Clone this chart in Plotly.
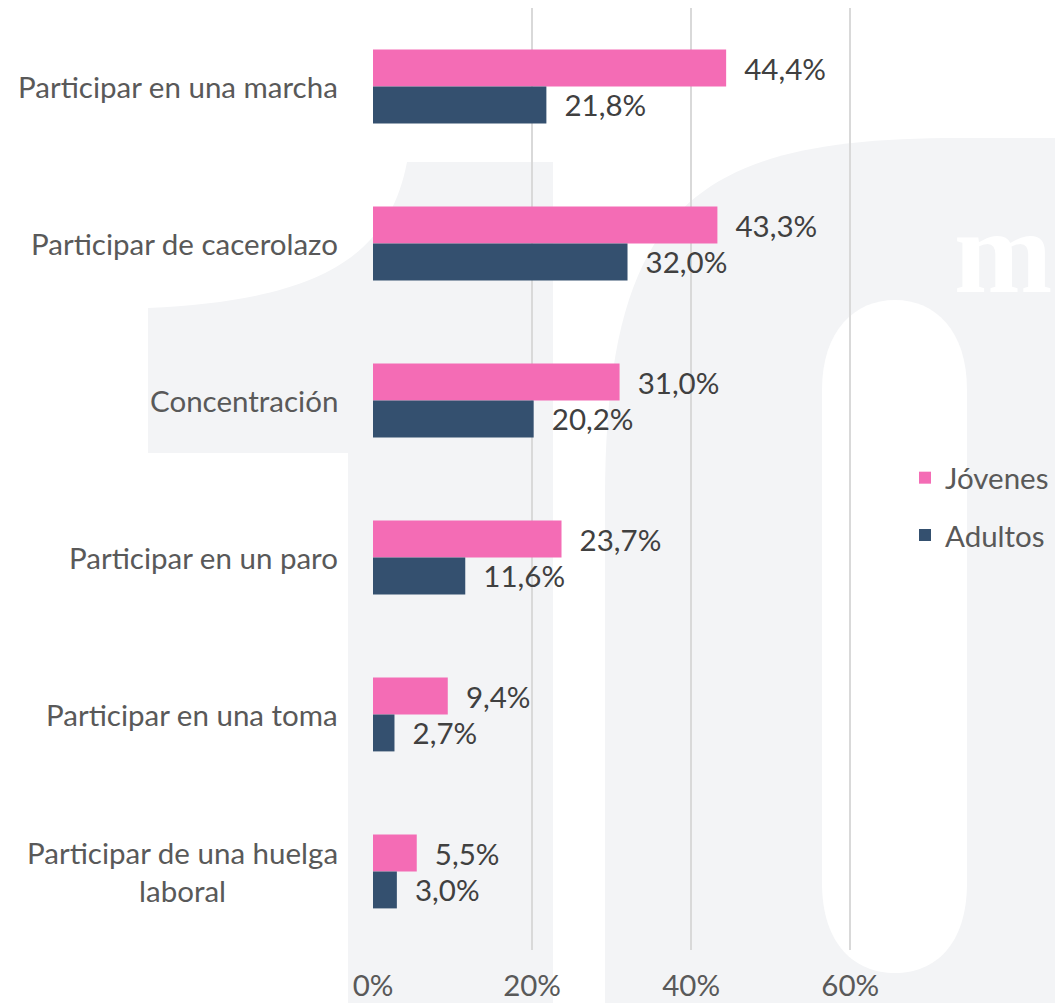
import plotly.graph_objects as go

categorias = ["Participar en una marcha", "Participar de cacerolazo", "Concentración",
              "Participar en un paro", "Participar en una toma",
              "Participar de una huelga laboral"]
etiquetas = ["Participar en una marcha", "Participar de cacerolazo", "Concentración",
             "Participar en un paro", "Participar en una toma",
             "Participar de una huelga<br>laboral"]
jovenes = [0.444, 0.433, 0.310, 0.237, 0.094, 0.055]
adultos = [0.218, 0.320, 0.202, 0.116, 0.027, 0.030]

ROSA = "#F46CB5"
AZUL = "#34506F"
GRIS_TXT = "#595959"
FONDO = "#F3F4F6"
FUENTE = "Lato"
TAM = 29.5

# the page body has an 8px margin, so the figure is 8px smaller than the window
OFF = 8
ANCHO, ALTO = 1063 - OFF, 1003 - OFF
L, T, W, H = 365, 0, 517, 942


def px(x, y):
    # page pixel -> paper coords
    return "%.4f,%.4f" % ((x - OFF - L) / W, (T + H - (y - OFF)) / H)


def path(cmds):
    out = ""
    for c, pts in cmds:
        out += c + " ".join(px(*p) for p in pts) + " "
    return out + "Z"


uno = path([("M", [(148, 310)]), ("L", [(148, 453)]), ("L", [(348, 453)]),
            ("L", [(348, 1010)]), ("L", [(553, 1010)]), ("L", [(553, 162)]),
            ("L", [(407, 162)]), ("C", [(390, 250), (330, 300), (148, 308)])])
cero = path([("M", [(605, 1010)]), ("L", [(605, 500)]),
             ("C", [(605, 200), (700, 138), (960, 138)]),
             ("L", [(1100, 138)]), ("L", [(1100, 1010)])])
hueco = path([("M", [(822, 390)]), ("C", [(822, 330), (855, 300), (895, 300)]),
              ("C", [(935, 300), (967, 330), (967, 390)]), ("L", [(967, 883)]),
              ("C", [(967, 945), (935, 973), (895, 973)]),
              ("C", [(855, 973), (822, 945), (822, 883)])])

fig = go.Figure()
fig.add_trace(go.Bar(y=categorias, x=jovenes, name="Jóvenes", orientation="h",
                     marker_color=ROSA, texttemplate="  %{x:.1%}",
                     textposition="outside", legendgroup="j"))
fig.add_trace(go.Bar(y=categorias, x=adultos, name="Adultos", orientation="h",
                     marker_color=AZUL, texttemplate="  %{x:.1%}",
                     textposition="outside", legendgroup="a"))

fig.update_traces(textfont=dict(family=FUENTE, size=TAM, color="#404040"),
                  cliponaxis=False, marker_line_width=0)

for cat, lab in zip(categorias, etiquetas):
    fig.add_annotation(x=0, y=cat, xref="paper", yref="y", text=lab,
                       xanchor="right", xshift=-33, showarrow=False, align="center",
                       font=dict(family=FUENTE, size=TAM, color=GRIS_TXT))

# faint logo letter of the watermark
fig.add_annotation(x=(952 - OFF - L) / W, y=(T + H - (252 - OFF)) / H,
                   xref="paper", yref="paper", text="<b>m</b>", showarrow=False,
                   xanchor="left", yanchor="middle",
                   font=dict(family="Liberation Serif", size=118, color="white"))

fig.update_layout(
    width=ANCHO, height=ALTO,
    margin=dict(l=L, r=ANCHO - L - W, t=T, b=ALTO - T - H),
    paper_bgcolor="white", plot_bgcolor="rgba(0,0,0,0)",
    barmode="group", bargap=0.53, bargroupgap=0,
    separators=",.",
    font=dict(family=FUENTE, color=GRIS_TXT),
    shapes=[
        dict(type="path", path=uno, xref="paper", yref="paper", fillcolor=FONDO,
             line_width=0, layer="below"),
        dict(type="path", path=cero, xref="paper", yref="paper", fillcolor=FONDO,
             line_width=0, layer="below"),
        dict(type="path", path=hueco, xref="paper", yref="paper", fillcolor="white",
             line_width=0, layer="below"),
    ],
    xaxis=dict(range=[0, 0.65], tickvals=[0, 0.2, 0.4, 0.6], tickformat=".0%",
               showgrid=True, gridcolor="#D9D9D9", gridwidth=1.5, zeroline=False,
               showline=False, ticklabelstandoff=15, automargin=False,
               tickfont=dict(family=FUENTE, size=TAM, color=GRIS_TXT)),
    yaxis=dict(autorange="reversed", showticklabels=False, showgrid=False,
               zeroline=False, showline=False, automargin=False),
    legend=dict(x=(905 - OFF - L) / W, y=(T + H - (452 - OFF)) / H,
                xanchor="left", yanchor="top",
                bgcolor="rgba(0,0,0,0)", tracegroupgap=16,
                font=dict(family=FUENTE, size=TAM, color=GRIS_TXT)),
)

fig.write_html("out.html")
